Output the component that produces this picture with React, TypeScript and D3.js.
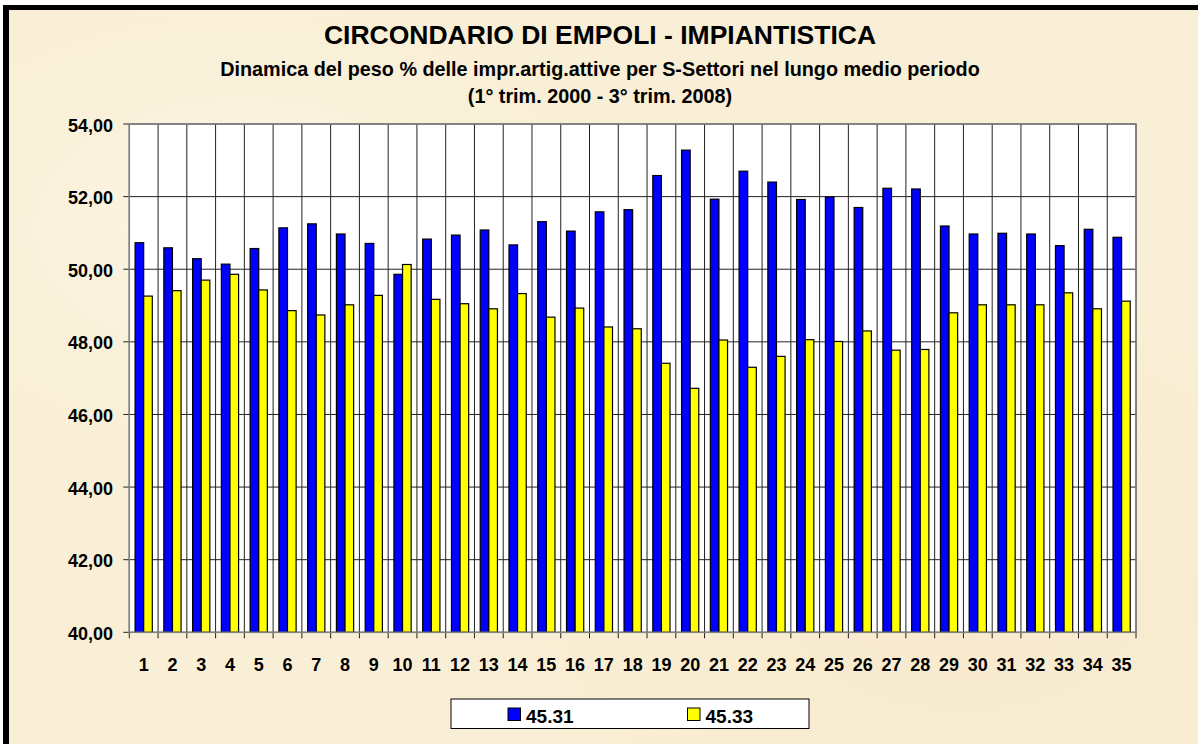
import React from 'react';
import * as d3 from 'd3';

const categories = Array.from({ length: 35 }, (_, i) => String(i + 1));

const series4531 = [
  50.73, 50.59, 50.29, 50.14, 50.57, 51.14, 51.25, 50.97, 50.71, 49.86,
  50.83, 50.94, 51.08, 50.67, 51.31, 51.05, 51.58, 51.64, 52.58, 53.28,
  51.93, 52.70, 52.40, 51.92, 51.99, 51.70, 52.23, 52.21, 51.19, 50.97,
  50.99, 50.97, 50.65, 51.10, 50.88,
];

const series4533 = [
  49.26, 49.41, 49.70, 49.86, 49.43, 48.86, 48.74, 49.02, 49.28, 50.13,
  49.17, 49.05, 48.91, 49.33, 48.68, 48.93, 48.41, 48.36, 47.41, 46.72,
  48.05, 47.30, 47.60, 48.06, 48.01, 48.30, 47.77, 47.79, 48.80, 49.02,
  49.02, 49.02, 49.35, 48.91, 49.12,
];

const seriesNames = ['45.31', '45.33'];
const seriesColors = ['#0000FF', '#FFFF00'];
const yTicks = [40, 42, 44, 46, 48, 50, 52, 54];

const W = 1198;
const H = 744;
const plot = { left: 129.3, right: 1136, top: 124, bottom: 632.3 };
const FONT = '"Liberation Sans", Arial, sans-serif';

export default function App() {
  const x = d3.scaleBand<string>().domain(categories).range([plot.left, plot.right]);
  const inner = d3
    .scaleBand<string>()
    .domain(seriesNames)
    .range([0, x.bandwidth()])
    .paddingInner(0)
    .paddingOuter(0.67);
  const y = d3.scaleLinear().domain([40, 54]).range([plot.bottom, plot.top]);
  const fmt = (v: number) => v.toFixed(2).replace('.', ',');
  const data = [series4531, series4533];
  const boundaries = d3.range(categories.length + 1).map(i => plot.left + i * x.step());

  return (
    <svg width={W} height={H} style={{ position: 'absolute', left: 0, top: 0 }} fontFamily={FONT}>
      <defs>
        <radialGradient id="tex1" cx="0.2" cy="0.3" r="0.5">
          <stop offset="0" stopColor="#fdf6e6" />
          <stop offset="1" stopColor="#f8ecd0" stopOpacity="0" />
        </radialGradient>
        <radialGradient id="tex2" cx="0.8" cy="0.8" r="0.5">
          <stop offset="0" stopColor="#f7e9cc" />
          <stop offset="1" stopColor="#f8ecd0" stopOpacity="0" />
        </radialGradient>
      </defs>
      <rect x={0} y={0} width={W} height={H} fill="#ffffff" />
      <rect x={3} y={5} width={W} height={H} fill="#f9efd6" />
      <rect x={3} y={5} width={W} height={H} fill="url(#tex1)" />
      <rect x={3} y={5} width={W} height={H} fill="url(#tex2)" />
      {/* frame (top & left only, the rest is cut off) */}
      <rect x={3} y={5} width={W} height={5} fill="#000" />
      <rect x={3} y={5} width={6} height={H} fill="#000" />

      {/* titles */}
      <text x={600} y={43.5} textAnchor="middle" fontWeight="bold" fontSize={26.5}>
        CIRCONDARIO DI EMPOLI - IMPIANTISTICA
      </text>
      <text x={600} y={75.5} textAnchor="middle" fontWeight="bold" fontSize={19.8}>
        Dinamica del peso % delle impr.artig.attive per S-Settori nel lungo medio periodo
      </text>
      <text x={600} y={102.5} textAnchor="middle" fontWeight="bold" fontSize={19.8}>
        (1° trim. 2000 - 3° trim. 2008)
      </text>

      {/* plot area */}
      <rect
        x={plot.left}
        y={plot.top}
        width={plot.right - plot.left}
        height={plot.bottom - plot.top}
        fill="#fff"
      />
      {boundaries.map((bx, i) => (
        <line key={`v${i}`} x1={bx} x2={bx} y1={plot.top} y2={plot.bottom + 6} stroke="#222" strokeWidth={1} />
      ))}
      {yTicks.map(t => (
        <g key={`y${t}`}>
          <line x1={plot.left - 6} x2={plot.right} y1={y(t)} y2={y(t)} stroke="#222" strokeWidth={1} />
          <text x={113} y={y(t) + 7.5} textAnchor="end" fontWeight="bold" fontSize={18}>
            {fmt(t)}
          </text>
        </g>
      ))}

      {/* bars */}
      {categories.map((c, i) => (
        <g key={`b${c}`} transform={`translate(${x(c)},0)`}>
          {data.map((s, k) => (
            <rect
              key={k}
              x={inner(seriesNames[k])!}
              y={y(s[i])}
              width={inner.bandwidth()}
              height={plot.bottom - y(s[i])}
              fill={seriesColors[k]}
              stroke="#000"
              strokeWidth={1.2}
            />
          ))}
        </g>
      ))}

      <rect
        x={plot.left}
        y={plot.top}
        width={plot.right - plot.left}
        height={plot.bottom - plot.top}
        fill="none"
        stroke="#808080"
        strokeWidth={1.5}
      />

      {/* x labels */}
      {categories.map(c => (
        <text key={`x${c}`} x={x(c)! + x.bandwidth() / 2} y={671} textAnchor="middle" fontWeight="bold" fontSize={18}>
          {c}
        </text>
      ))}

      {/* legend */}
      <rect x={451} y={699} width={358} height={29.5} fill="#fff" stroke="#000" strokeWidth={1} />
      {seriesNames.map((n, k) => (
        <g key={`l${n}`} transform={`translate(${508 + k * 179.5},708)`}>
          <rect x={0} y={0} width={12.5} height={12.5} fill={seriesColors[k]} stroke="#000" strokeWidth={1} />
          <text x={18} y={14.7} fontWeight="bold" fontSize={19}>
            {n}
          </text>
        </g>
      ))}
    </svg>
  );
}
